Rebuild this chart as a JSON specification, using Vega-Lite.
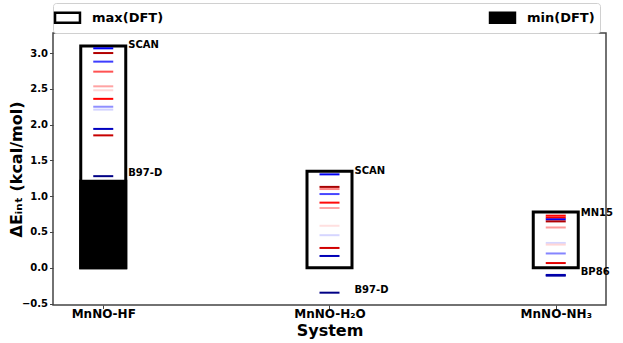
{
  "$schema": "https://vega.github.io/schema/vega-lite/v6.json",
  "width": 553,
  "height": 272,
  "autosize": "none",
  "padding": {"left": 53, "top": 33, "right": 17, "bottom": 38},
  "config": {
    "font": "DejaVu Sans",
    "view": {"stroke": "#444444", "strokeWidth": 1.5},
    "axis": {
      "grid": false,
      "domain": false,
      "labelFont": "DejaVu Sans",
      "labelFontWeight": "bold",
      "titleFont": "DejaVu Sans",
      "titleFontWeight": "bold",
      "tickColor": "#444444",
      "labelColor": "#000000",
      "titleColor": "#000000"
    }
  },
  "datasets": {
    "bars": [
      {"system": "MnNO-HF", "sys": 0, "kind": "max(DFT)", "value": 3.10},
      {"system": "MnNO-H2O", "sys": 1, "kind": "max(DFT)", "value": 1.35},
      {"system": "MnNO-NH3", "sys": 2, "kind": "max(DFT)", "value": 0.78},
      {"system": "MnNO-HF", "sys": 0, "kind": "min(DFT)", "value": 1.21}
    ],
    "lines": [
      {"sys": 0, "value": 3.066, "cmap": 0.24},
      {"sys": 0, "value": 3.0, "cmap": 0.90},
      {"sys": 0, "value": 2.88, "cmap": 0.31},
      {"sys": 0, "value": 2.74, "cmap": 0.67},
      {"sys": 0, "value": 2.535, "cmap": 0.59},
      {"sys": 0, "value": 2.48, "cmap": 0.54},
      {"sys": 0, "value": 2.36, "cmap": 0.75},
      {"sys": 0, "value": 2.25, "cmap": 0.39},
      {"sys": 0, "value": 2.21, "cmap": 0.455},
      {"sys": 0, "value": 1.94, "cmap": 0.16},
      {"sys": 0, "value": 1.85, "cmap": 0.86},
      {"sys": 0, "value": 1.28, "cmap": 0.08},
      {"sys": 1, "value": 1.305, "cmap": 0.23},
      {"sys": 1, "value": 1.13, "cmap": 0.92},
      {"sys": 1, "value": 1.10, "cmap": 0.62},
      {"sys": 1, "value": 1.03, "cmap": 0.32},
      {"sys": 1, "value": 0.91, "cmap": 0.74},
      {"sys": 1, "value": 0.835, "cmap": 0.59},
      {"sys": 1, "value": 0.587, "cmap": 0.53},
      {"sys": 1, "value": 0.455, "cmap": 0.46},
      {"sys": 1, "value": 0.277, "cmap": 0.84},
      {"sys": 1, "value": 0.165, "cmap": 0.15},
      {"sys": 1, "value": -0.348, "cmap": 0.08},
      {"sys": 2, "value": 0.728, "cmap": 0.75},
      {"sys": 2, "value": 0.70, "cmap": 0.76},
      {"sys": 2, "value": 0.676, "cmap": 0.24},
      {"sys": 2, "value": 0.648, "cmap": 0.90},
      {"sys": 2, "value": 0.563, "cmap": 0.60},
      {"sys": 2, "value": 0.347, "cmap": 0.46},
      {"sys": 2, "value": 0.324, "cmap": 0.54},
      {"sys": 2, "value": 0.20, "cmap": 0.38},
      {"sys": 2, "value": 0.066, "cmap": 0.80},
      {"sys": 2, "value": -0.10, "cmap": 0.15},
      {"sys": 2, "value": -0.11, "cmap": 0.12}
    ],
    "labels": [
      {"sys": 0, "value": 3.066, "label": "SCAN"},
      {"sys": 0, "value": 1.28, "label": "B97-D"},
      {"sys": 1, "value": 1.305, "label": "SCAN"},
      {"sys": 1, "value": -0.348, "label": "B97-D"},
      {"sys": 2, "value": 0.728, "label": "MN15"},
      {"sys": 2, "value": -0.105, "label": "BP86"}
    ]
  },
  "encoding": {
    "x": {
      "field": "sys",
      "type": "quantitative",
      "scale": {"domain": [-0.2, 2.2], "nice": false, "zero": false},
      "axis": {
        "values": [0, 1, 2],
        "labelExpr": "datum.value == 0 ? 'MnNO-HF' : datum.value == 1 ? 'MnNO-H₂O' : 'MnNO-NH₃'",
        "title": "System",
        "titleFontSize": 16,
        "labelFontSize": 12,
        "tickSize": 3.5,
        "labelPadding": 0,
        "titlePadding": 3
      }
    },
    "y": {
      "field": "value",
      "type": "quantitative",
      "scale": {"domain": [-0.52, 3.28], "nice": false, "zero": false},
      "axis": {
        "values": [-0.5, 0, 0.5, 1, 1.5, 2, 2.5, 3],
        "format": ".1f",
        "title": "ΔEᵢₙₜ (kcal/mol)",
        "titleFontSize": 16,
        "labelFontSize": 10,
        "tickSize": 3.5,
        "labelPadding": 2,
        "titlePadding": -3
      }
    }
  },
  "layer": [
    {
      "data": {"values": [{}]},
      "mark": {"type": "rule", "color": "#555555", "strokeWidth": 1.2},
      "encoding": {"y": {"datum": 0}, "x": null}
    },
    {
      "data": {"name": "bars"},
      "mark": {"type": "bar", "size": 45, "stroke": "black", "strokeWidth": 3},
      "encoding": {
        "y": {"field": "value", "type": "quantitative", "stack": null},
        "fill": {
          "field": "kind",
          "type": "nominal",
          "scale": {"domain": ["max(DFT)", "min(DFT)"], "range": ["white", "black"]},
          "legend": {
            "orient": "none",
            "legendX": 0,
            "legendY": -30,
            "direction": "horizontal",
            "columns": 2,
            "columnPadding": 321,
            "title": null,
            "symbolType": "M-1.6,-0.65H1.6V0.65H-1.6Z",
            "symbolSize": 243,
            "symbolStrokeColor": "black",
            "symbolStrokeWidth": 2.5,
            "symbolOpacity": 1,
            "labelFontSize": 13,
            "labelFontWeight": "bold",
            "labelFont": "DejaVu Sans",
            "labelColor": "black",
            "labelOffset": 15,
            "strokeColor": "#d0d0d0",
            "fillColor": "white",
            "padding": 5,
            "cornerRadius": 3
          }
        }
      }
    },
    {
      "data": {"name": "lines"},
      "mark": {"type": "tick", "orient": "horizontal", "size": 20, "thickness": 2, "opacity": 1},
      "encoding": {
        "color": {
          "field": "cmap",
          "type": "quantitative",
          "scale": {
            "domain": [0, 0.25, 0.5, 0.75, 1],
            "range": ["#00004c", "#0000ff", "#ffffff", "#ff0000", "#7f0000"],
            "interpolate": "rgb"
          },
          "legend": null
        }
      }
    },
    {
      "data": {"name": "labels"},
      "mark": {"type": "text", "align": "left", "baseline": "middle", "dx": 25, "dy": -3, "fontSize": 10, "fontWeight": "bold", "font": "DejaVu Sans", "color": "black"},
      "encoding": {"text": {"field": "label", "type": "nominal"}}
    }
  ]
}
